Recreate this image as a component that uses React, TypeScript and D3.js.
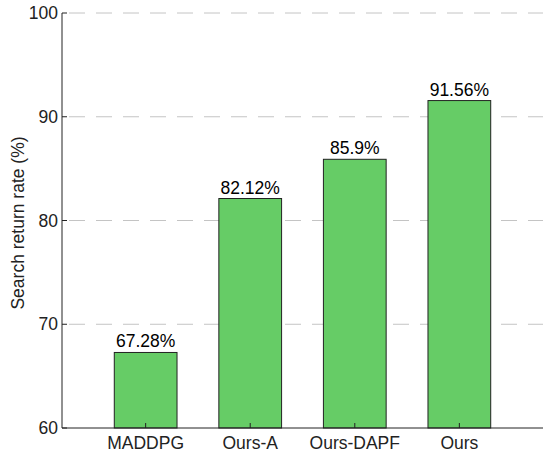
import React from "react";
import * as d3 from "d3";

const categories = ["MADDPG", "Ours-A", "Ours-DAPF", "Ours"];
const values = [67.28, 82.12, 85.9, 91.56];
const valueLabels = ["67.28%", "82.12%", "85.9%", "91.56%"];
const yTicks = [60, 70, 80, 90, 100];
const yLabel = "Search return rate (%)";

const W = 550;
const H = 457;
const left = 62;
const right = 543;
const top = 13;
const bottom = 428;

export default function App() {
  const x = d3.scaleLinear().domain([0.2, categories.length + 0.8]).range([left, right]);
  const y = d3.scaleLinear().domain([60, 100]).range([bottom, top]);
  const bw = (x(1.6) - x(1)) ;
  const font = "'Liberation Sans', Arial, Helvetica, sans-serif";
  return (
    <svg width={W} height={H} style={{ position: "absolute", left: 0, top: 0, background: "#fff" }} fontFamily={font}>
      {yTicks.filter((t) => t > 60).map((t) => (
        <line key={"g" + t} x1={left + 5} x2={right} y1={y(t)} y2={y(t)} stroke="#c4c4c4" strokeWidth={1} strokeDasharray="16 11" strokeDashoffset={-2} />
      ))}
      {values.map((v, i) => (
        <rect key={categories[i]} x={x(i + 1) - bw / 2} y={y(v)} width={bw} height={bottom - y(v)} fill="#66cc66" stroke="#222" strokeWidth={1} />
      ))}
      {values.map((v, i) => (
        <text key={"v" + i} x={x(i + 1)} y={y(v) - 5} textAnchor="middle" fontSize={17.5} fill="#000">{valueLabels[i]}</text>
      ))}
      <line x1={left} x2={left} y1={top} y2={bottom} stroke="#222" strokeWidth={1} />
      <line x1={left} x2={right} y1={bottom} y2={bottom} stroke="#222" strokeWidth={1} />
      {yTicks.map((t) => (
        <g key={"yt" + t}>
          <line x1={left} x2={left + 5} y1={y(t)} y2={y(t)} stroke="#222" />
          <text x={left - 4} y={y(t)} dy="0.35em" textAnchor="end" fontSize={17.5} fill="#222">{t}</text>
        </g>
      ))}
      {categories.map((c, i) => (
        <g key={"xt" + c}>
          <line x1={x(i + 1)} x2={x(i + 1)} y1={bottom} y2={bottom - 5} stroke="#222" />
          <text x={x(i + 1)} y={bottom + 21} textAnchor="middle" fontSize={17.5} fill="#222">{c}</text>
        </g>
      ))}
      <text transform={`translate(24, 223) rotate(-90)`} textAnchor="middle" fontSize={17.5} fill="#222">{yLabel}</text>
    </svg>
  );
}
